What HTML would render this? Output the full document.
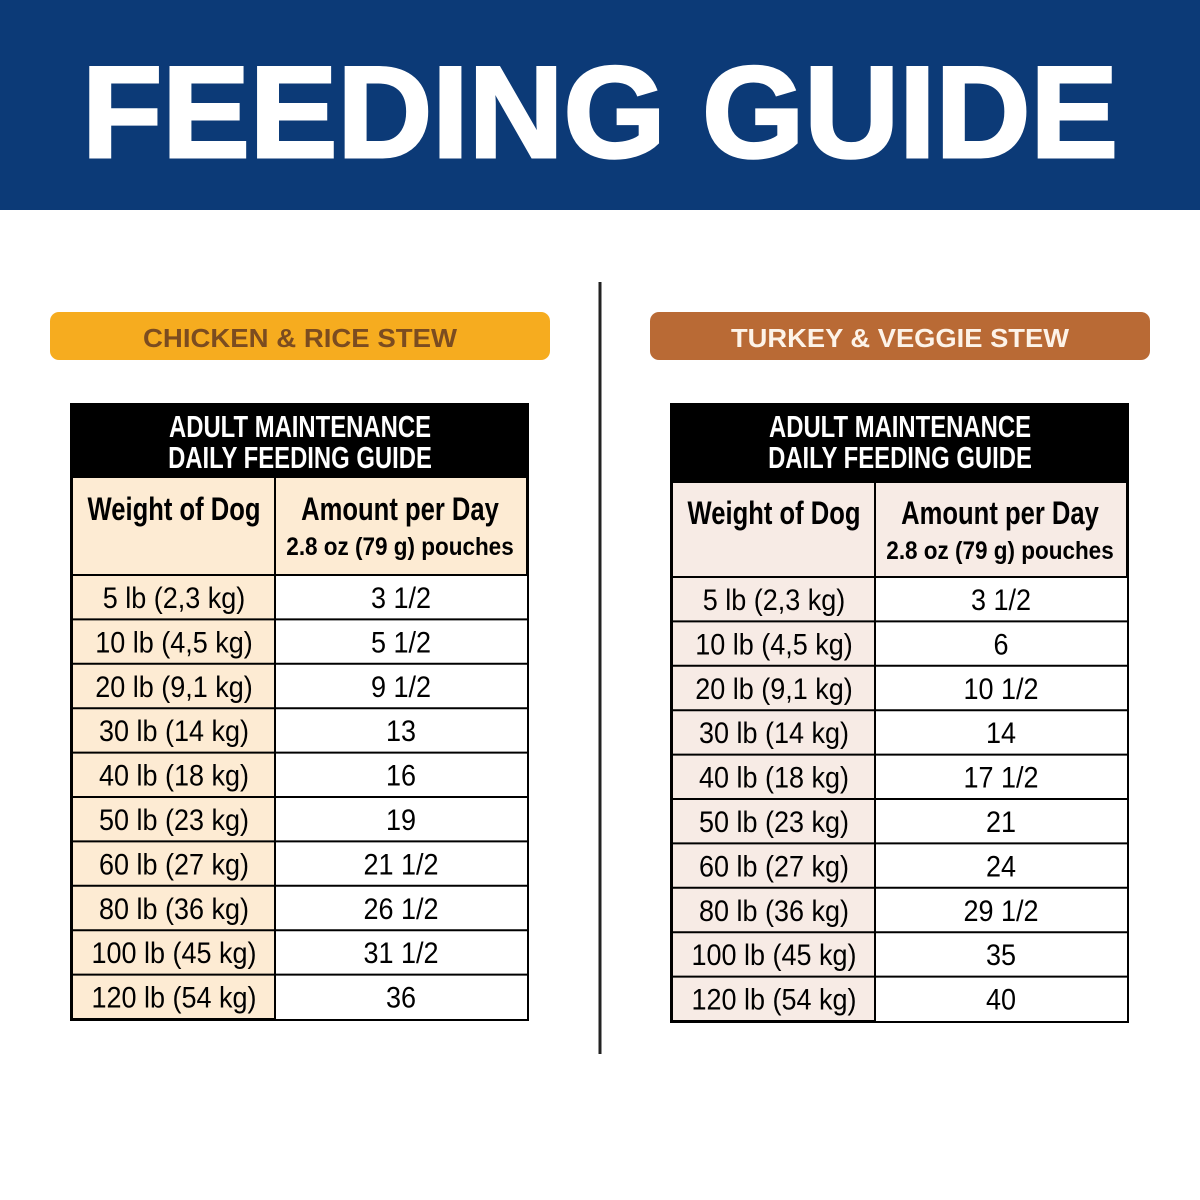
<!DOCTYPE html>
<html><head><meta charset="utf-8"><style>
html,body{margin:0;padding:0;background:#fff;}
svg{display:block;}
text{font-family:"Liberation Sans",Arial,sans-serif;}
</style></head><body>
<svg width="1200" height="1200" viewBox="0 0 1200 1200" xmlns="http://www.w3.org/2000/svg">
<rect x="0" y="0" width="1200" height="210" fill="#0c3a77"/>
<text x="82" y="157" font-size="130" font-weight="bold" fill="#fff" textLength="1036" lengthAdjust="spacingAndGlyphs" stroke="#fff" stroke-width="3">FEEDING GUIDE</text>
<line x1="600" y1="282" x2="600" y2="1054" stroke="#222" stroke-width="3"/>
<rect x="50" y="312" width="500" height="48" rx="9" fill="#f6ac1f"/>
<text x="143" y="347" font-size="26" font-weight="bold" fill="#7b4c20" textLength="314" lengthAdjust="spacingAndGlyphs">CHICKEN &amp; RICE STEW</text>
<rect x="650" y="312" width="500" height="48" rx="9" fill="#b96a35"/>
<text x="731" y="347" font-size="26" font-weight="bold" fill="#fdf3e8" textLength="338" lengthAdjust="spacingAndGlyphs">TURKEY &amp; VEGGIE STEW</text>

<!-- LEFT TABLE -->
<g>
<rect x="71.5" y="404.5" width="456" height="615" fill="#fdebd3" stroke="#000" stroke-width="3"/>
<rect x="275" y="575" width="252" height="444" fill="#fff"/>
<rect x="70" y="403" width="459" height="75" fill="#000"/>
<g fill="#fff" font-weight="bold" font-size="31">
<text transform="translate(300,437) scale(0.77,1)" text-anchor="middle">ADULT MAINTENANCE</text>
<text transform="translate(300,468) scale(0.77,1)" text-anchor="middle">DAILY FEEDING GUIDE</text>
</g>
<line x1="275" y1="478" x2="275" y2="1020" stroke="#000" stroke-width="2"/>
<g stroke="#000" stroke-width="2">
<line x1="71" y1="575" x2="528" y2="575"/>
<line x1="71" y1="619.4" x2="528" y2="619.4"/>
<line x1="71" y1="663.8" x2="528" y2="663.8"/>
<line x1="71" y1="708.2" x2="528" y2="708.2"/>
<line x1="71" y1="752.6" x2="528" y2="752.6"/>
<line x1="71" y1="797" x2="528" y2="797"/>
<line x1="71" y1="841.4" x2="528" y2="841.4"/>
<line x1="71" y1="885.8" x2="528" y2="885.8"/>
<line x1="71" y1="930.2" x2="528" y2="930.2"/>
<line x1="71" y1="974.6" x2="528" y2="974.6"/>
</g>
<g fill="#000" font-weight="bold">
<text transform="translate(174,520) scale(0.8,1)" text-anchor="middle" font-size="32">Weight of Dog</text>
<text transform="translate(400,520) scale(0.8,1)" text-anchor="middle" font-size="32">Amount per Day</text>
<text transform="translate(400,555) scale(0.9,1)" text-anchor="middle" font-size="25">2.8 oz (79 g) pouches</text>
</g>
<g fill="#000" font-size="30" text-anchor="middle">
<text transform="translate(174,608) scale(0.9,1)">5 lb (2,3 kg)</text>
<text transform="translate(174,652.4) scale(0.9,1)">10 lb (4,5 kg)</text>
<text transform="translate(174,696.8) scale(0.9,1)">20 lb (9,1 kg)</text>
<text transform="translate(174,741.2) scale(0.9,1)">30 lb (14 kg)</text>
<text transform="translate(174,785.6) scale(0.9,1)">40 lb (18 kg)</text>
<text transform="translate(174,830) scale(0.9,1)">50 lb (23 kg)</text>
<text transform="translate(174,874.4) scale(0.9,1)">60 lb (27 kg)</text>
<text transform="translate(174,918.8) scale(0.9,1)">80 lb (36 kg)</text>
<text transform="translate(174,963.2) scale(0.9,1)">100 lb (45 kg)</text>
<text transform="translate(174,1007.6) scale(0.9,1)">120 lb (54 kg)</text>
<text transform="translate(401,608) scale(0.9,1)">3 1/2</text>
<text transform="translate(401,652.4) scale(0.9,1)">5 1/2</text>
<text transform="translate(401,696.8) scale(0.9,1)">9 1/2</text>
<text transform="translate(401,741.2) scale(0.9,1)">13</text>
<text transform="translate(401,785.6) scale(0.9,1)">16</text>
<text transform="translate(401,830) scale(0.9,1)">19</text>
<text transform="translate(401,874.4) scale(0.9,1)">21 1/2</text>
<text transform="translate(401,918.8) scale(0.9,1)">26 1/2</text>
<text transform="translate(401,963.2) scale(0.9,1)">31 1/2</text>
<text transform="translate(401,1007.6) scale(0.9,1)">36</text>
</g>
</g>

<!-- RIGHT TABLE -->
<g>
<rect x="671.5" y="404.5" width="456" height="617" fill="#f7ebe5" stroke="#000" stroke-width="3"/>
<rect x="875" y="577" width="252" height="444" fill="#fff"/>
<rect x="670" y="403" width="459" height="80" fill="#000"/>
<g fill="#fff" font-weight="bold" font-size="31">
<text transform="translate(900,437) scale(0.77,1)" text-anchor="middle">ADULT MAINTENANCE</text>
<text transform="translate(900,468) scale(0.77,1)" text-anchor="middle">DAILY FEEDING GUIDE</text>
</g>
<line x1="875" y1="483" x2="875" y2="1022" stroke="#000" stroke-width="2"/>
<g stroke="#000" stroke-width="2">
<line x1="671" y1="577" x2="1128" y2="577"/>
<line x1="671" y1="621.4" x2="1128" y2="621.4"/>
<line x1="671" y1="665.8" x2="1128" y2="665.8"/>
<line x1="671" y1="710.2" x2="1128" y2="710.2"/>
<line x1="671" y1="754.6" x2="1128" y2="754.6"/>
<line x1="671" y1="799" x2="1128" y2="799"/>
<line x1="671" y1="843.4" x2="1128" y2="843.4"/>
<line x1="671" y1="887.8" x2="1128" y2="887.8"/>
<line x1="671" y1="932.2" x2="1128" y2="932.2"/>
<line x1="671" y1="976.6" x2="1128" y2="976.6"/>
</g>
<g fill="#000" font-weight="bold">
<text transform="translate(774,524) scale(0.8,1)" text-anchor="middle" font-size="32">Weight of Dog</text>
<text transform="translate(1000,524) scale(0.8,1)" text-anchor="middle" font-size="32">Amount per Day</text>
<text transform="translate(1000,559) scale(0.9,1)" text-anchor="middle" font-size="25">2.8 oz (79 g) pouches</text>
</g>
<g fill="#000" font-size="30" text-anchor="middle">
<text transform="translate(774,610) scale(0.9,1)">5 lb (2,3 kg)</text>
<text transform="translate(774,654.4) scale(0.9,1)">10 lb (4,5 kg)</text>
<text transform="translate(774,698.8) scale(0.9,1)">20 lb (9,1 kg)</text>
<text transform="translate(774,743.2) scale(0.9,1)">30 lb (14 kg)</text>
<text transform="translate(774,787.6) scale(0.9,1)">40 lb (18 kg)</text>
<text transform="translate(774,832) scale(0.9,1)">50 lb (23 kg)</text>
<text transform="translate(774,876.4) scale(0.9,1)">60 lb (27 kg)</text>
<text transform="translate(774,920.8) scale(0.9,1)">80 lb (36 kg)</text>
<text transform="translate(774,965.2) scale(0.9,1)">100 lb (45 kg)</text>
<text transform="translate(774,1009.6) scale(0.9,1)">120 lb (54 kg)</text>
<text transform="translate(1001,610) scale(0.9,1)">3 1/2</text>
<text transform="translate(1001,654.4) scale(0.9,1)">6</text>
<text transform="translate(1001,698.8) scale(0.9,1)">10 1/2</text>
<text transform="translate(1001,743.2) scale(0.9,1)">14</text>
<text transform="translate(1001,787.6) scale(0.9,1)">17 1/2</text>
<text transform="translate(1001,832) scale(0.9,1)">21</text>
<text transform="translate(1001,876.4) scale(0.9,1)">24</text>
<text transform="translate(1001,920.8) scale(0.9,1)">29 1/2</text>
<text transform="translate(1001,965.2) scale(0.9,1)">35</text>
<text transform="translate(1001,1009.6) scale(0.9,1)">40</text>
</g>
</g>
</svg>
</body></html>
